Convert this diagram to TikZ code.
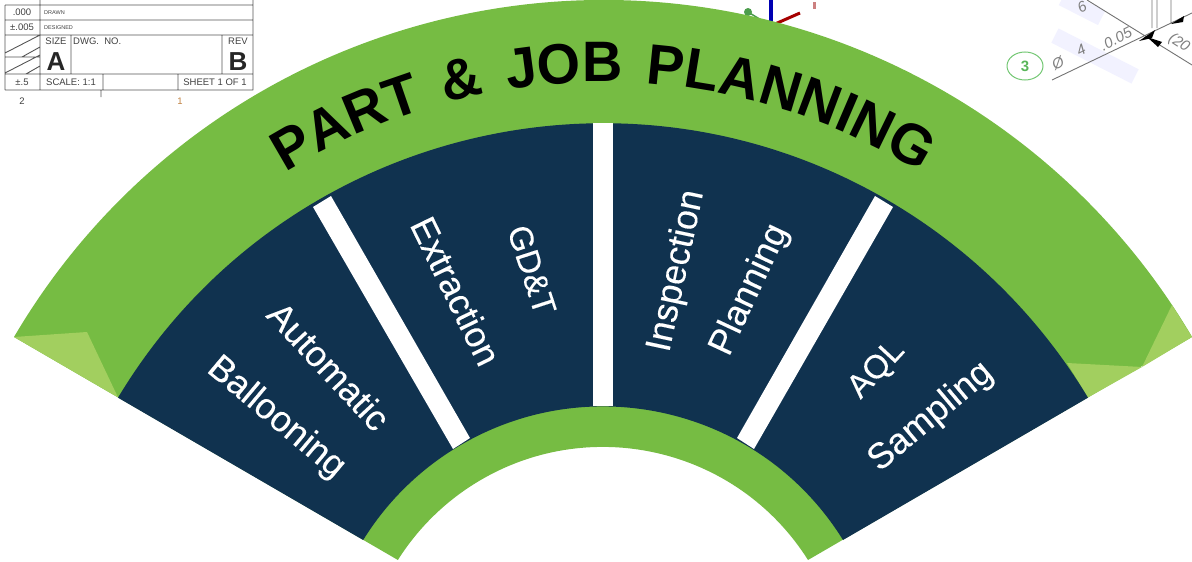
\documentclass[tikz,border=0pt]{standalone}
\usepackage{fontspec}
\setmainfont{Liberation Sans}
\newfontfamily\titlefont[FakeStretch=0.98,WordSpace=1.5]{Liberation Sans}
\newfontfamily\secfont[FakeBold=0.15]{Liberation Sans}
\usetikzlibrary{decorations.text,shapes.geometric}
\definecolor{fangreen}{HTML}{76BC43}
\definecolor{fanlight}{HTML}{A2CF5F}
\definecolor{fandark}{HTML}{10324F}
\definecolor{tbline}{HTML}{555555}
\begin{document}
\begin{tikzpicture}[x=1pt,y=-1pt,
    every node/.style={inner sep=0pt},
    tb/.style={font=\fontsize{9.5}{11}\selectfont,text=black!75},
    tbsmall/.style={font=\fontsize{5.5}{7}\selectfont,text=black!75,anchor=west},
    tbbig/.style={font=\bfseries\fontsize{26}{28}\selectfont,text=black!85},
    scrap/.style={text=black!50,font=\itshape\fontsize{15}{17}\selectfont,rotate=27},
    seclabel/.style={text=white,font=\secfont\fontsize{36}{40}\selectfont},
    seccaps/.style={seclabel,font=\secfont\fontsize{33}{40}\selectfont}]
  \useasboundingbox (0,0) rectangle (1192,562);
  % title block
  \draw[tbline,line width=0.9pt]
    (5,5) -- (253,5) (5,20) -- (253,20) (5,35) -- (253,35) (5,74) -- (253,74)
    (5,90) -- (253,90) (5,57) -- (40,57)
    (5,5) -- (5,90) (40,0) -- (40,90) (253,0) -- (253,90)
    (71,35) -- (71,74) (222,35) -- (222,74) (103,74) -- (103,90) (178,74) -- (178,90)
    (101,90) -- (101,97)
    (5,53) -- (40,35) (22,57) -- (40,47) (5,73) -- (40,55) (26,74) -- (40,66);
  \node[tb] (tol1) at (22,12.5) {.000};
  \node[tb] (tol2) at (22,27.5) {±.005};
  \node[tb] (tol3) at (22,82) {±.5};
  \node[tbsmall] (drawn) at (44,12.5) {DRAWN};
  \node[tbsmall] (designed) at (44,27.5) {DESIGNED};
  \node[tb] (size) at (56,41) {SIZE};
  \node[tb,anchor=west] (dwg) at (73,41) {DWG.\ \ NO.};
  \node[tb] (rev) at (238,41) {REV};
  \node[tbbig] (sizeA) at (56,62) {A};
  \node[tbbig] (revB) at (238,62) {B};
  \node[tb] (scale) at (71,82) {SCALE: 1:1};
  \node[tb] (sheet) at (215,82) {SHEET 1 OF 1};
  \node[tb] (zone2) at (22,101) {2};
  \node[tb,text=brown] (zone1) at (180,101) {1};
  % scraps behind the fan
  \draw[blue!70!black,line width=3.5pt] (771,0) -- (771,24);
  \draw[red!65!black,line width=3pt] (775,24) -- (800,13);
  \draw[green!45!black!70,line width=1.5pt] (748,12) -- (771,26);
  \fill[green!45!black!70] (748,12) circle[radius=4];
  \fill[red!60!black!50] (813,2) rectangle (816,9);
  \fill[blue!5,rotate around={-27:(1095,56)}] (1050,48) rectangle (1140,64);
  \fill[blue!5,rotate around={-27:(1082,8)}] (1060,0) rectangle (1104,16);
  \draw[black!55,line width=0.9pt] (1052,80) -- (1192,13) (1087,0) -- (1192,65)
    (1152,0) -- (1152,28) (1157,0) -- (1157,28) (1171,0) -- (1171,23);
  \fill[black] (1139,41) -- (1155,30) -- (1152,38) -- cycle;
  \fill[black] (1147,37) -- (1162,42) -- (1158,47) -- cycle;
  \fill[black] (1171,24) -- (1184,16) -- (1183,22) -- cycle;
  \node[draw=green!60!black!55,line width=1pt,ellipse,minimum width=36pt,minimum height=28pt,inner sep=0pt] (balloon) at (1025,66) {};
  \node[text=green!55!black!65,font=\bfseries\fontsize{15}{17}\selectfont] (ballnum) at (balloon) {3};
  \node[scrap] (dia) at (1058,63) {Ø};
  \node[scrap] (dianum) at (1081,50) {4};
  \node[scrap] (diatol) at (1116,39) {.0.05};
  \node[scrap,rotate=0] (scrapa) at (1082,7) {6};
  \node[scrap,rotate=-60] (scrapb) at (1179,43) {(20};
  % fan
  \fill[fangreen] (14,337) arc[start angle=149.54,end angle=30.46,radius=683.4pt]
    -- (808,560) arc[start angle=32.26,end angle=147.74,radius=242.5pt] -- cycle;
  \fill[fanlight] (14,337) -- (87,332) -- (118,397.4) -- cycle;
  \fill[fanlight] (1067,363) -- (1142,367) -- (1088,397.4) -- cycle;
  \fill[fanlight] (1172,305) -- (1192,337) -- (1142,367) -- cycle;
  \fill[fandark] (118,397.7) arc[start angle=149,end angle=31,radius=565.8pt]
    -- (843,540) arc[start angle=31.8,end angle=148.2,radius=282.3pt] -- cycle;
  \fill[white] (313,207) -- (331,196) -- (470,438) -- (453,449) -- cycle;
  \fill[white] (593,123) -- (613,123) -- (613,406) -- (593,406) -- cycle;
  \fill[white] (875,196) -- (893,207) -- (754,449) -- (737,438) -- cycle;
  \path[decorate,decoration={text along path,text align=center,
      text={|\titlefont\bfseries\fontsize{57}{60}\selectfont|PART {\&} JOB PLANNING}}]
    (83.4,382) arc[start angle=150,end angle=30,radius=600pt];
  \node[seclabel,rotate=-47] (auto) at (329,366) {Automatic};
  \node[seclabel,rotate=-40] (ball) at (276,418) {Ballooning};
  \node[seccaps,rotate=-72] (gdt) at (532,270) {GD\&T};
  \node[seclabel,rotate=-64] (extr) at (456,291) {Extraction};
  \node[seclabel,rotate=78] (insp) at (677,271) {Inspection};
  \node[seclabel,rotate=65] (plan) at (750,290) {Planning};
  \node[seccaps,rotate=47] (aql) at (877,370) {AQL};
  \node[seclabel,rotate=40] (samp) at (931,417) {Sampling};
\end{tikzpicture}
\end{document}
